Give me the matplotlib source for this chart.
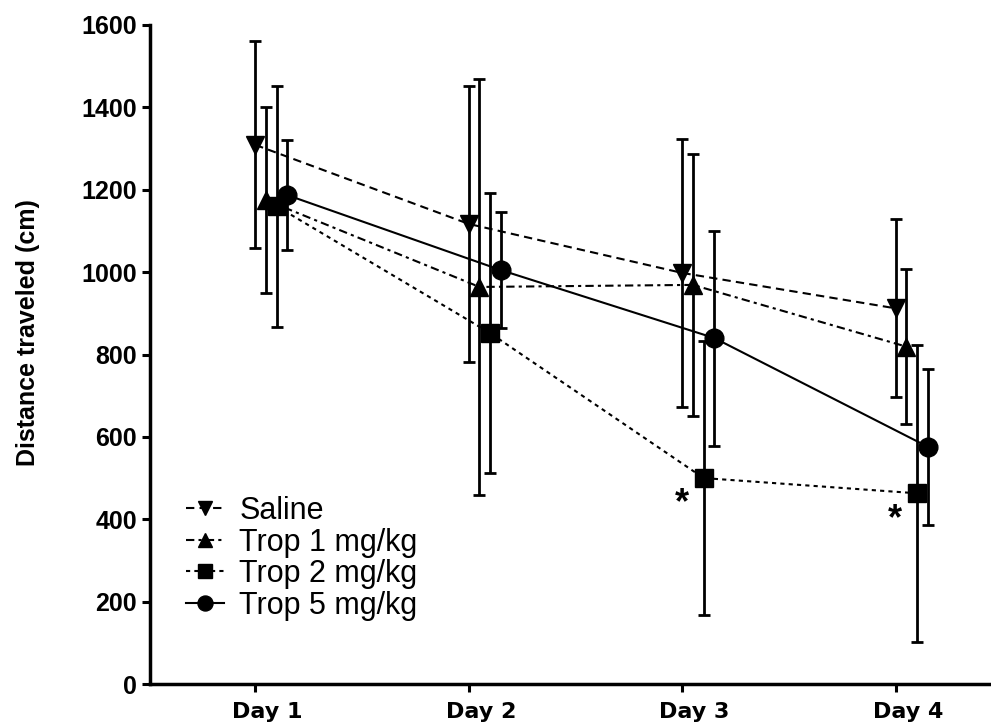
import matplotlib
matplotlib.use("Agg")
import matplotlib.pyplot as plt
import matplotlib.transforms as mtransforms
import numpy as np

plt.rcParams['font.family'] = ['Liberation Sans', 'DejaVu Sans']

days = ["Day 1", "Day 2", "Day 3", "Day 4"]
groups = ["Saline", "Trop 1 mg/kg", "Trop 2 mg/kg", "Trop 5 mg/kg"]

saline_mean = [1309, 1117, 998, 912]
saline_err = [251, 336, 325, 216]
trop1_mean = [1175, 964, 969, 819]
trop1_err = [226, 504, 319, 188]
trop2_mean = [1160, 852, 500, 463]
trop2_err = [293, 340, 332, 360]
trop5_mean = [1187, 1005, 840, 576]
trop5_err = [133, 140, 261, 190]

means = [saline_mean, trop1_mean, trop2_mean, trop5_mean]
errs = [saline_err, trop1_err, trop2_err, trop5_err]
markers = ['v', '^', 's', 'o']
msizes = [12.5, 12.5, 13, 13.5]
dashes = [(4, 2.5), (4, 2, 1.5, 2), (2, 2), None]
offsets = [0.0, 0.05, 0.1, 0.15]
star_days = [2, 3]  # indices of Trop 2 points marked significant

W, H = 991, 726
X0, Y0, Y1 = 150, 684, 25
fig = plt.figure(figsize=(W / 100, H / 100), dpi=100)
ax = fig.add_axes([X0 / W, (H - Y0) / H, (W - X0) / W, (Y0 - Y1) / H])

x = np.arange(1, len(days) + 1)
handles = []
for m, e, mk, ms, ds, off, lab in zip(means, errs, markers, msizes, dashes, offsets, groups):
    xs = x + off
    ax.errorbar(xs, m, yerr=e, fmt='none', ecolor='black', elinewidth=2.0,
                capsize=4, capthick=2.0, zorder=2)
    line, = ax.plot(xs, m, color='black', lw=1.5, marker=mk, markersize=ms,
                    markerfacecolor='black', markeredgecolor='black', zorder=3,
                    label=lab)
    if ds is not None:
        line.set_dashes(ds)
    handles.append(line)

for d in star_days:
    ax.annotate('*', xy=(x[d] + offsets[2], trop2_mean[d]), xytext=(-22, -26),
                textcoords='offset pixels', ha='center', va='center',
                fontsize=26, fontweight='bold', family='Liberation Sans')

ax.set_xlim(0.507, 4.446)
ax.set_ylim(0, 1600)
ax.set_xticks(x)
ax.set_xticklabels(days)
ax.set_yticks(np.arange(0, 1601, 200))

for sp in ['top', 'right']:
    ax.spines[sp].set_visible(False)
for sp in ['left', 'bottom']:
    ax.spines[sp].set_linewidth(2.5)

ax.tick_params(axis='both', direction='out', length=6, width=2.2)
ax.tick_params(axis='x', pad=7)
ax.tick_params(axis='y', pad=3.5)
shift = mtransforms.ScaledTranslation(12 / 100, 0, fig.dpi_scale_trans)
for lbl in ax.get_xticklabels():
    lbl.set_fontweight('bold')
    lbl.set_fontfamily('DejaVu Sans')
    lbl.set_fontsize(16)
    lbl.set_transform(lbl.get_transform() + shift)
for lbl in ax.get_yticklabels():
    lbl.set_fontweight('bold')
    lbl.set_fontsize(18)

fig.text(28 / W, 1 - 333 / H, 'Distance traveled (cm)', rotation=90,
         ha='center', va='center', fontsize=18, fontweight='bold')

leg = ax.legend(handles=handles, loc='upper left',
                bbox_to_anchor=((186 - X0) / (W - X0), (Y0 - 496) / (Y0 - Y1)),
                frameon=False, fontsize=22, handlelength=1.25, handletextpad=0.5,
                labelspacing=0.05, markerscale=0.8, borderaxespad=0, borderpad=0)

fig.savefig('out.png', dpi=100)
